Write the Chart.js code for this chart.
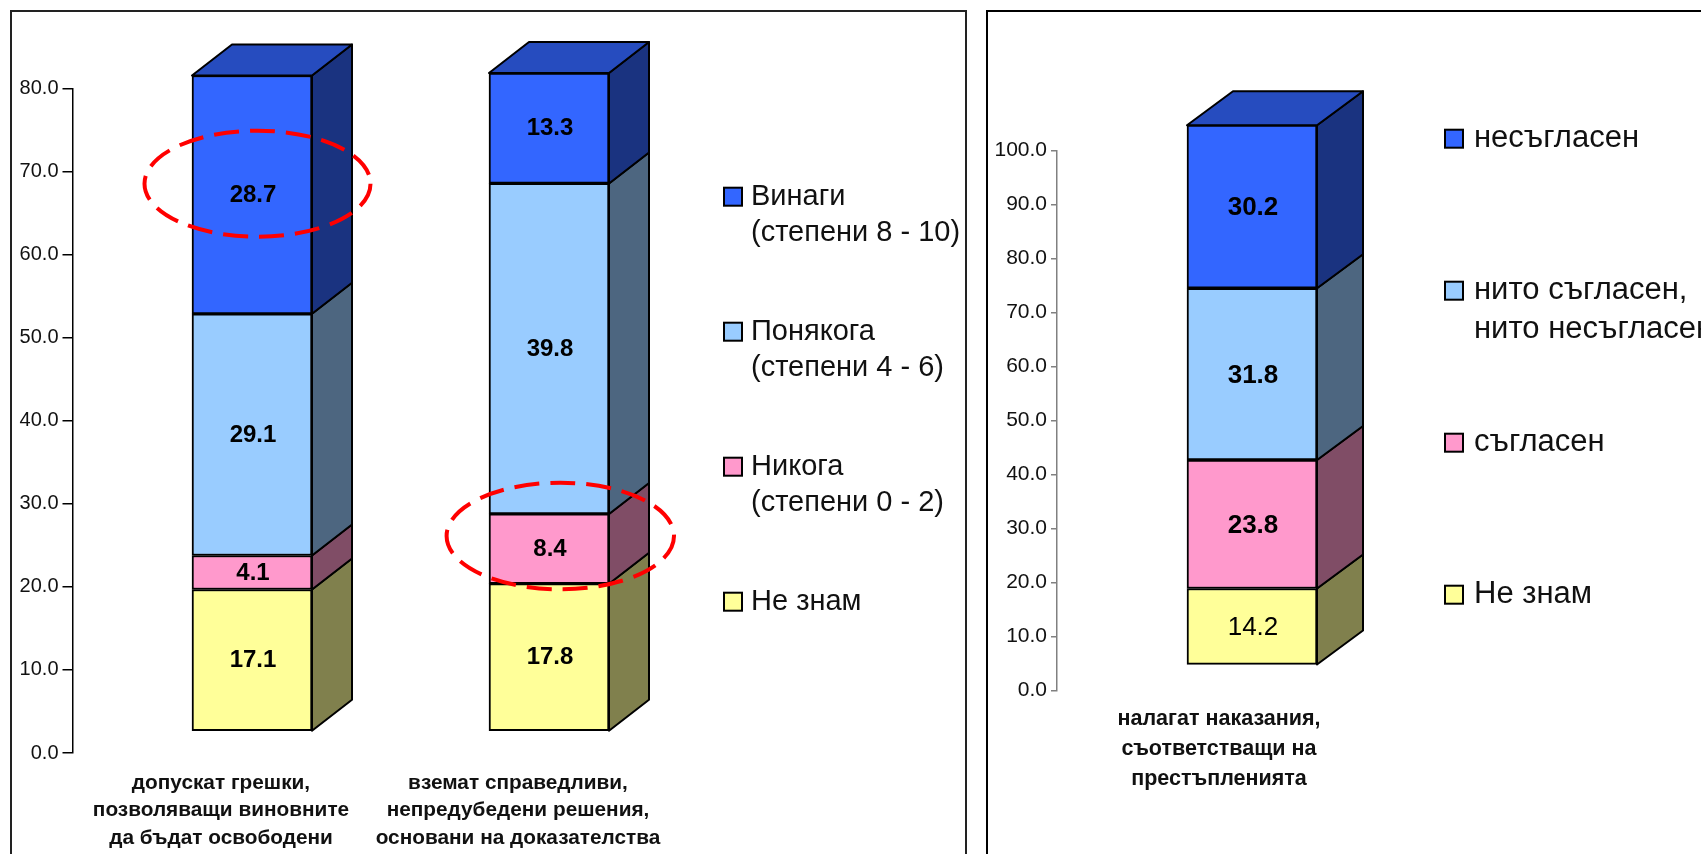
<!DOCTYPE html>
<html>
<head>
<meta charset="utf-8">
<title>chart</title>
<script src="https://cdn.jsdelivr.net/npm/chart.js@4"></script>
<style>
  html, body { margin: 0; padding: 0; background: #fff; width: 1701px; height: 854px; overflow: hidden; }
  canvas { position: absolute; top: 0; }
  #leftChart { left: 0; }
  #rightChart { left: 970px; }
  .frame { position: absolute; top: 10px; height: 900px; box-sizing: border-box; border: 2px solid #222; }
  #leftFrame { left: 10px; width: 957px; }
  #rightFrame { left: 986px; width: 800px; border-width: 2.5px; border-color: #000; }
</style>
</head>
<body>
<div class="frame" id="leftFrame"></div>
<div class="frame" id="rightFrame"></div>
<canvas id="leftChart" width="966" height="854"></canvas>
<canvas id="rightChart" width="731" height="854"></canvas>
<script>
// left chart
const leftCategories = [
  ['допускат грешки,', 'позволяващи виновните', 'да бъдат освободени'],
  ['вземат справедливи,', 'непредубедени решения,', 'основани на доказателства']
];
const leftDontKnow = [17.1, 17.8];
const leftNever = [4.1, 8.4];
const leftSometimes = [29.1, 39.8];
const leftAlways = [28.7, 13.3];
const leftSeriesNames = ['Не знам', 'Никога', 'Понякога', 'Винаги'];
const leftLegend = [['Винаги', '(степени 8 - 10)'], ['Понякога', '(степени 4 - 6)'], ['Никога', '(степени 0 - 2)'], ['Не знам']];

// right chart
const rightCategories = [['налагат наказания,', 'съответстващи на', 'престъпленията']];
const rightDontKnow = [14.2];
const rightAgree = [23.8];
const rightNeither = [31.8];
const rightDisagree = [30.2];
const rightSeriesNames = ['Не знам', 'съгласен', 'нито съгласен, нито несъгласен', 'несъгласен'];
const rightLegend = [['несъгласен'], ['нито съгласен,', 'нито несъгласен'], ['съгласен'], ['Не знам']];

const fronts = ['#FFFF99', '#FF99CC', '#99CCFF', '#3366FF'];
const sides = ['#80804D', '#804D66', '#4D6680', '#1A3380'];
const topFace = '#264CBF';
const FONT = '"Liberation Sans", Arial, sans-serif';

// draws the fake 3d: bars are pushed off the axes by (shiftX, shiftY), depth goes up and right
const bar3d = {
  id: 'bar3d',
  beforeDatasetsDraw(chart, args, o) {
    const ctx = chart.ctx;
    ctx.save();
    ctx.translate(o.shiftX, o.shiftY);
    ctx.lineWidth = 2;
    ctx.strokeStyle = '#000';
    ctx.lineJoin = 'round';
    const last = chart.data.datasets.length - 1;
    chart.data.datasets.forEach((ds, i) => {
      chart.getDatasetMeta(i).data.forEach(bar => {
        const l = bar.x - bar.width / 2, r = bar.x + bar.width / 2;
        ctx.fillStyle = sides[i];
        ctx.beginPath();
        ctx.moveTo(r, bar.base);
        ctx.lineTo(r + o.depthX, bar.base - o.depthY);
        ctx.lineTo(r + o.depthX, bar.y - o.depthY);
        ctx.lineTo(r, bar.y);
        ctx.closePath();
        ctx.fill();
        ctx.stroke();
        if (i === last) {
          ctx.fillStyle = topFace;
          ctx.beginPath();
          ctx.moveTo(l, bar.y);
          ctx.lineTo(l + o.depthX, bar.y - o.depthY);
          ctx.lineTo(r + o.depthX, bar.y - o.depthY);
          ctx.lineTo(r, bar.y);
          ctx.closePath();
          ctx.fill();
          ctx.stroke();
        }
      });
    });
  },
  afterDatasetsDraw(chart, args, o) {
    const ctx = chart.ctx;
    ctx.textAlign = 'center';
    ctx.textBaseline = 'middle';
    ctx.fillStyle = '#000';
    chart.data.datasets.forEach((ds, i) => {
      chart.getDatasetMeta(i).data.forEach((bar, j) => {
        ctx.font = (o.plainSeries === i ? '' : 'bold ') + o.labelSize + 'px ' + FONT;
        ctx.fillText(ds.data[j].toFixed(1), bar.x + 1, (bar.y + bar.base) / 2 + o.labelDy);
      });
    });
    ctx.restore();
  },
  afterDraw(chart, args, o) {
    const ctx = chart.ctx;
    ctx.save();
    // legend
    ctx.textAlign = 'left';
    ctx.textBaseline = 'middle';
    ctx.font = o.legendSize + 'px ' + FONT;
    const n = o.legend.length;
    o.legend.forEach((lines, k) => {
      const y = o.legendY + k * o.legendStep;
      ctx.fillStyle = fronts[n - 1 - k];
      ctx.strokeStyle = '#000';
      ctx.lineWidth = 2;
      ctx.fillRect(o.legendX, y - 9, 18, 18);
      ctx.strokeRect(o.legendX, y - 9, 18, 18);
      ctx.fillStyle = '#111';
      lines.forEach((t, m) => ctx.fillText(t, o.legendX + o.legendGap, y + m * o.legendLine));
    });
    // red rings
    ctx.strokeStyle = '#FF0000';
    ctx.lineWidth = 4;
    ctx.setLineDash([25, 11]);
    (o.rings || []).forEach(e => {
      ctx.beginPath();
      ctx.ellipse(e[0], e[1], e[2], e[3], 0, 0, Math.PI * 2);
      ctx.stroke();
    });
    ctx.restore();
  }
};

function makeChart(id, c) {
  const datasets = c.series.map((data, i) => ({
    label: c.names[i],
    data: data,
    backgroundColor: fronts[i],
    borderColor: '#000',
    borderWidth: 2,
    borderSkipped: false,
    barThickness: c.barWidth,
    clip: false
  }));
  return new Chart(document.getElementById(id), {
    type: 'bar',
    data: { labels: c.categories, datasets: datasets },
    plugins: [bar3d],
    options: {
      responsive: false,
      animation: false,
      layout: { padding: { left: 0, top: c.top, right: c.right, bottom: 0 } },
      plugins: {
        legend: { display: false },
        tooltip: { enabled: false },
        bar3d: c.look
      },
      scales: {
        x: {
          stacked: true,
          grid: { display: false },
          border: { display: false },
          afterFit: s => { s.height = c.axisHeight; },
          ticks: {
            autoSkip: false,
            maxRotation: 0,
            padding: c.xPad,
            color: '#111',
            font: { family: FONT, size: c.xSize, weight: 'bold', lineHeight: c.xLine }
          }
        },
        y: {
          stacked: true,
          min: 0,
          max: c.max,
          afterFit: s => { s.width = c.axisX; },
          border: { color: c.axisColor, width: 1.5 },
          grid: { drawOnChartArea: false, color: c.axisColor, tickLength: c.tickLen, lineWidth: 1.5 },
          ticks: {
            stepSize: 10,
            padding: 4,
            color: '#111',
            font: { family: FONT, size: c.ySize },
            callback: v => v.toFixed(1)
          }
        }
      }
    }
  });
}

makeChart('leftChart', {
  categories: leftCategories,
  names: leftSeriesNames,
  series: [leftDontKnow, leftNever, leftSometimes, leftAlways],
  barWidth: 120,
  top: 88.7,
  right: 299.5,
  axisHeight: 101,
  axisX: 72.5,
  max: 80,
  xPad: 8,
  xSize: 20.8,
  xLine: 1.33,
  ySize: 20,
  tickLen: 10,
  axisColor: '#000',
  look: {
    shiftX: 31, shiftY: -21.5, depthX: 40, depthY: 31,
    labelSize: 24, labelDy: 0.5,
    legend: leftLegend, legendX: 724, legendGap: 27, legendY: 196.7, legendStep: 135, legendLine: 36, legendSize: 29,
    rings: [[257.5, 183.7, 113, 53], [560.3, 536, 113.7, 53.3]]
  }
});

makeChart('rightChart', {
  categories: rightCategories,
  names: rightSeriesNames,
  series: [rightDontKnow, rightAgree, rightNeither, rightDisagree],
  barWidth: 130,
  top: 150.7,
  right: 320,
  axisHeight: 163.3,
  axisX: 87,
  max: 100,
  xPad: 5,
  xSize: 21.5,
  xLine: 1.41,
  ySize: 21,
  tickLen: 6,
  axisColor: '#808080',
  look: {
    shiftX: 33, shiftY: -25.5, depthX: 46, depthY: 34,
    labelSize: 26, labelDy: 1.5,
    plainSeries: 0,
    legend: rightLegend, legendX: 475, legendGap: 29, legendY: 138.7, legendStep: 152, legendLine: 39, legendSize: 31
  }
});
</script>
</body>
</html>
